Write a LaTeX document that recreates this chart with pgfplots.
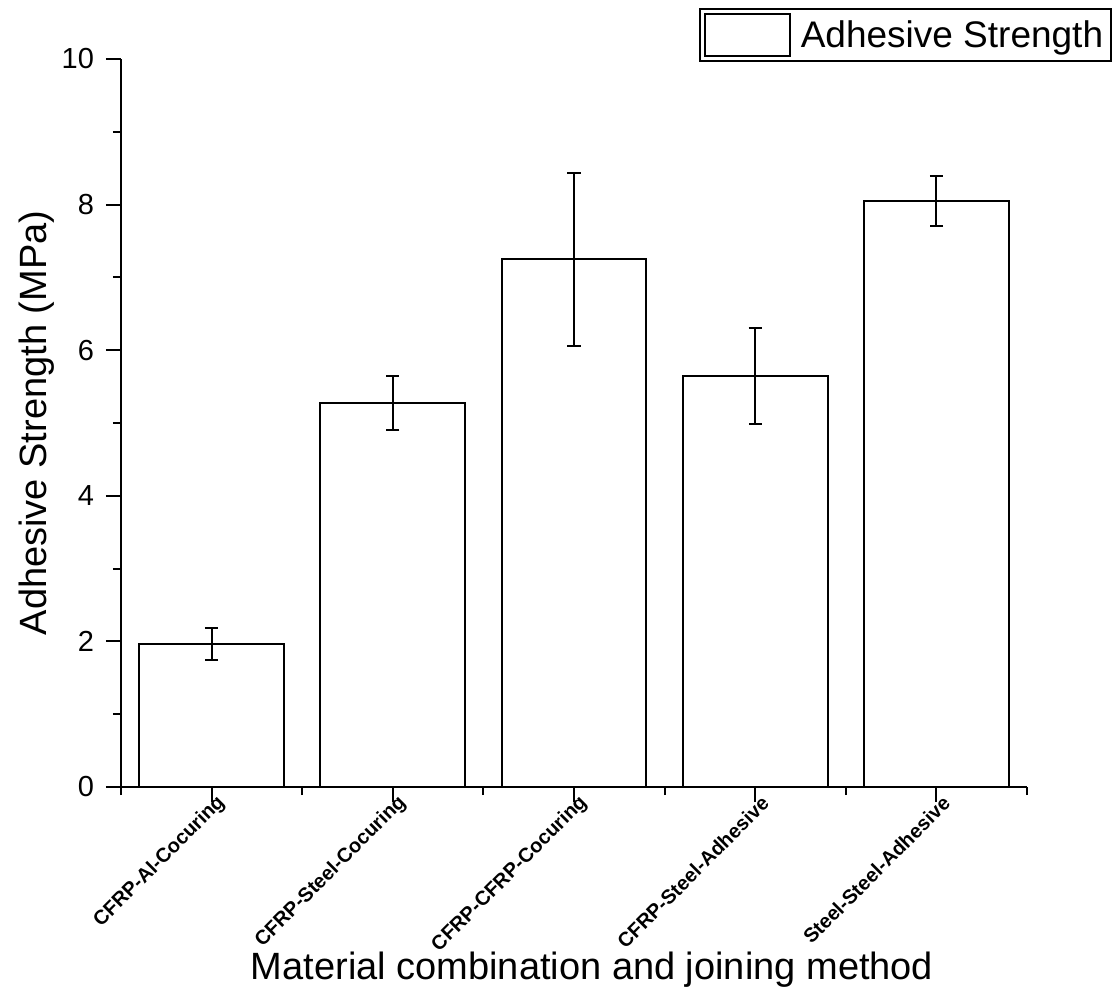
\documentclass[border=0pt]{standalone}
\usepackage{fontspec}
\setmainfont{Liberation Sans}
\usepackage{pgfplots}
\pgfplotsset{compat=1.18}
\begin{document}
\begin{tikzpicture}
\begin{axis}[
  name=ax,
  scale only axis,
  width=453pt, height=364pt,
  xmin=0.5, xmax=5.5, ymin=0, ymax=10,
  axis lines*=left,
  axis line style={line width=1pt},
  tick align=outside,
  major tick length=7.5pt, minor tick length=4pt,
  every tick/.style={black, line width=1pt},
  xtick={1,2,3,4,5},
  minor xtick={0.5,1.5,2.5,3.5,4.5,5.5},
  xticklabels={CFRP-Al-Cocuring,CFRP-Steel-Cocuring,CFRP-CFRP-Cocuring,CFRP-Steel-Adhesive,Steel-Steel-Adhesive},
  xticklabel style={font=\bfseries\fontsize{10}{12}\selectfont, anchor=east, xshift=7.5pt, yshift=3.5pt, rotate=45},
  ytick={0,2,4,6,8,10}, minor ytick={1,3,5,7,9},
  yticklabel style={font=\fontsize{14.5}{17}\selectfont, xshift=-2.5pt},
  /pgf/number format/assume math mode=true,
  ylabel={Adhesive Strength (MPa)},
  xlabel={Material combination and joining method},
  label style={font=\fontsize{19}{22}\selectfont},
  ylabel style={at={(axis description cs:-0.0927,0.5)}, anchor=center},
  xlabel style={at={(axis description cs:0.52,-0.2514)}, anchor=center},
  legend style={at={(axis description cs:1.094,1.070)}, anchor=north east,
    draw=black, line width=1pt, inner sep=2pt,
    font=\fontsize{18.5}{22}\selectfont},
  legend image code/.code={\draw[#1, line width=1pt] (0pt,-10pt) rectangle (42.5pt,11pt);
    \path (45.5pt,0pt);},
]
\addplot[ybar, bar width=0.8, fill=white, draw=black, line width=1pt,
  error bars/.cd, y dir=both, y explicit,
  error bar style={line width=1pt, black},
  error mark options={rotate=90, mark size=3.3pt, line width=1pt, black}]
  table[x=x, y=y, y error=e] {
x y e
1 1.97 0.22
2 5.27 0.37
3 7.25 1.19
4 5.65 0.66
5 8.05 0.34
};
\addlegendentry{Adhesive Strength}
\end{axis}
\pgfresetboundingbox
\path[use as bounding box] ([xshift=-60.5pt,yshift=-102pt]ax.south west) rectangle ([xshift=45.5pt,yshift=29.5pt]ax.north east);
\end{tikzpicture}
\end{document}
